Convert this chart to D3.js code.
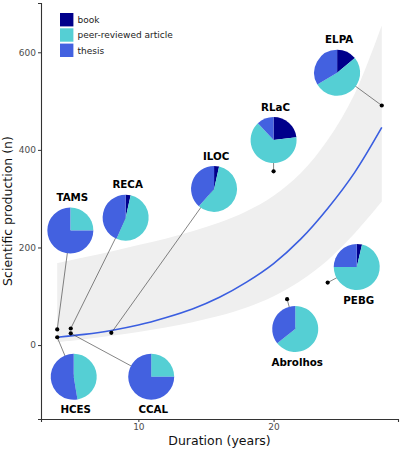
<!DOCTYPE html>
<html>
<head>
<meta charset="utf-8">
<script src="https://cdn.jsdelivr.net/npm/d3@7"></script>
<style>
  body { margin: 0; background: #fff; }
  text { font-family: "DejaVu Sans", Verdana, sans-serif; }
</style>
</head>
<body>
<div id="chart"></div>
<script>
// sites, duration (years) and scientific production (n)
const sites = ["TAMS", "RECA", "ILOC", "RLaC", "ELPA", "PEBG", "Abrolhos", "HCES", "CCAL"];
const duration = [4, 5, 8, 20, 28, 24, 21, 4, 5];
const production = [32, 34, 25, 356, 491, 128, 94, 16, 24];

// share of each kind of publication per site
const types = ["book", "peer-reviewed article", "thesis"];
const bookShare = [0, 0.035, 0.035, 0.23, 0.14, 0.037, 0, 0, 0];
const articleShare = [0.25, 0.53, 0.58, 0.65, 0.525, 0.713, 0.643, 0.474, 0.25];
const thesisShare = [0.75, 0.435, 0.385, 0.12, 0.335, 0.25, 0.357, 0.526, 0.75];

// where each pie is placed, in data units
const pieX = [4.97, 9.06, 15.6, 20.0, 24.7, 26.15, 21.6, 5.22, 10.95];
const pieY = [235, 261, 320, 420, 558, 160, 33, -65, -65];
const labelBelow = [false, false, false, false, false, true, true, true, true];

// fitted trend and its confidence band
const fitX = [4, 6, 8, 10, 12, 14, 16, 18, 20, 22, 24, 26, 28];
const fitY = [16, 22, 30, 41, 56, 74, 98, 129, 167, 217, 280, 354, 446];
const fitLo = [6, 12, 19, 27, 36, 47, 60, 77, 100, 132, 174, 229, 294];
const fitHi = [168, 180, 192, 205, 218, 233, 251, 274, 306, 352, 420, 515, 655];

const xTicks = [10, 20];
const yTicks = [0, 200, 400, 600];

const W = 400, H = 450;
const margin = { top: 3, right: 2, bottom: 31, left: 41 };
const width = W - margin.left - margin.right;
const height = H - margin.top - margin.bottom;
const pieR = 23;

const colors = d3.scaleOrdinal()
    .domain(types)
    .range(["#00008b", "#55cfd4", "#4361e0"]);

const svg = d3.select("#chart")
    .append("svg")
    .attr("width", W)
    .attr("height", H)
    .append("g")
    .attr("transform", `translate(${margin.left},${margin.top})`);

const x = d3.scaleLinear().domain([2.8, 29.2]).range([0, width]);
const y = d3.scaleLinear().domain([-151.5, 701]).range([height, 0]);

const fit = fitX.map((d, i) => ({ x: d, y: fitY[i], lo: fitLo[i], hi: fitHi[i] }));

// confidence band
svg.append("path")
    .datum(fit)
    .attr("fill", "#efefef")
    .attr("d", d3.area()
        .curve(d3.curveCatmullRom)
        .x(d => x(d.x))
        .y0(d => y(d.lo))
        .y1(d => y(d.hi)));

// trend line
svg.append("path")
    .datum(fit)
    .attr("fill", "none")
    .attr("stroke", "#3a5ee0")
    .attr("stroke-width", 1.6)
    .attr("d", d3.line()
        .curve(d3.curveCatmullRom)
        .x(d => x(d.x))
        .y(d => y(d.y)));

// axes
const xAxis = svg.append("g")
    .attr("transform", `translate(0,${height})`)
    .call(d3.axisBottom(x).tickValues(xTicks).tickSize(3).tickPadding(2));
const yAxis = svg.append("g")
    .call(d3.axisLeft(y).tickValues(yTicks).tickSize(3).tickPadding(2));

[xAxis, yAxis].forEach(a => {
    a.select(".domain").attr("stroke", "#333").attr("stroke-width", 1.1);
    a.selectAll(".tick line").attr("stroke", "#333");
    a.selectAll(".tick text")
        .attr("fill", "#4d4d4d")
        .style("font-size", "9px")
        .style("font-family", "DejaVu Sans, sans-serif");
});

const sitesData = sites.map((s, i) => ({
    name: s,
    dur: duration[i],
    prod: production[i],
    px: x(pieX[i]),
    py: y(pieY[i]),
    below: labelBelow[i],
    shares: [bookShare[i], articleShare[i], thesisShare[i]]
}));

// connectors from each point to its pie
svg.selectAll("line.connector")
    .data(sitesData)
    .enter()
    .append("line")
    .attr("class", "connector")
    .attr("x1", d => x(d.dur))
    .attr("y1", d => y(d.prod))
    .attr("x2", d => d.px)
    .attr("y2", d => d.py)
    .attr("stroke", "#333")
    .attr("stroke-width", 0.6);

// points
svg.selectAll("circle.point")
    .data(sitesData)
    .enter()
    .append("circle")
    .attr("class", "point")
    .attr("cx", d => x(d.dur))
    .attr("cy", d => y(d.prod))
    .attr("r", 2.1)
    .attr("fill", "#000");

// pies
const pie = d3.pie().sort(null).value(d => d.v);
const arc = d3.arc().innerRadius(0).outerRadius(pieR);

const pies = svg.selectAll("g.pie")
    .data(sitesData)
    .enter()
    .append("g")
    .attr("class", "pie")
    .attr("transform", d => `translate(${d.px},${d.py})`);

pies.selectAll("path")
    .data(d => pie(d.shares.map((v, k) => ({ v: v, type: types[k] }))))
    .enter()
    .append("path")
    .attr("d", arc)
    .attr("fill", d => colors(d.data.type));

pies.append("text")
    .attr("x", 2)
    .attr("y", d => d.below ? 33 : -33)
    .attr("dy", "0.36em")
    .attr("text-anchor", "middle")
    .style("font-size", "10.3px")
    .style("font-weight", "bold")
    .attr("fill", "#000")
    .text(d => d.name);

// legend
const legend = svg.append("g")
    .attr("transform", "translate(19,10)");

types.forEach((t, i) => {
    legend.append("rect")
        .attr("x", 0)
        .attr("y", i * 15.3)
        .attr("width", 13.4)
        .attr("height", 13.4)
        .attr("fill", colors(t));
    legend.append("text")
        .attr("x", 17.5)
        .attr("y", i * 15.3 + 6.7)
        .attr("dy", "0.36em")
        .style("font-size", "9px")
        .attr("fill", "#222")
        .text(t);
});

// axis titles
svg.append("text")
    .attr("x", width / 2)
    .attr("y", height + 26)
    .attr("text-anchor", "middle")
    .style("font-size", "12.5px")
    .attr("fill", "#111")
    .text("Duration (years)");

svg.append("text")
    .attr("transform", "rotate(-90)")
    .attr("x", -height / 2)
    .attr("y", -29)
    .attr("text-anchor", "middle")
    .style("font-size", "12.5px")
    .attr("fill", "#111")
    .text("Scientific production (n)");
</script>
</body>
</html>
